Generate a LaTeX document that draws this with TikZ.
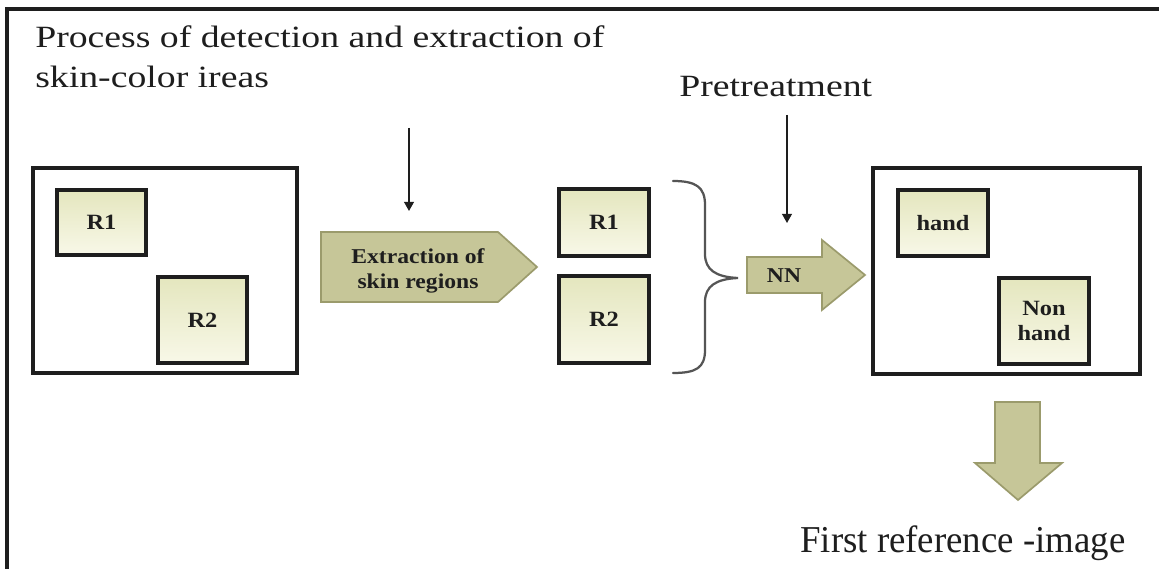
\documentclass[tikz,border=0pt]{standalone}
\usepackage{fontspec}
\setmainfont{Liberation Serif}
\newfontfamily\headfont[FakeStretch=1.22]{Liberation Serif}
\newfontfamily\capfont[FakeStretch=0.97]{Liberation Serif}
\newfontfamily\tagfont[FakeStretch=1.12]{Liberation Serif}
\usetikzlibrary{arrows.meta}
\definecolor{ink}{RGB}{30,30,30}
\definecolor{olive}{RGB}{198,198,152}
\definecolor{olivedark}{RGB}{155,155,108}
\definecolor{boxtop}{RGB}{228,230,190}
\definecolor{boxbot}{RGB}{248,248,232}
\definecolor{bracegray}{RGB}{85,85,85}
\begin{document}
\begin{tikzpicture}[x=0.025cm,y=-0.025cm,
  sz/.style 2 args={minimum width=#1*0.025cm, minimum height=#2*0.025cm},
  panel/.style={draw=ink, line width=2.5pt, fill=white, inner sep=0pt},
  tagbox/.style={draw=ink, line width=2.5pt, top color=boxtop, bottom color=boxbot,
    inner sep=0pt, align=center, text=ink,
    font=\tagfont\bfseries\fontsize{15.5}{16.5}\selectfont},
  blocklabel/.style={inner sep=0pt, align=center, text=ink,
    font=\tagfont\bfseries\fontsize{15}{17.5}\selectfont},
  blockarrow/.style={fill=olive, draw=olivedark, line width=1.2pt, line join=miter},
  heading/.style={inner sep=0pt, anchor=base west, text=ink,
    font=\headfont\fontsize{22}{28}\selectfont},
  pointer/.style={draw=ink, line width=1.1pt, -{Triangle[width=7pt,length=6.5pt]}},
  bracket/.style={draw=bracegray, line width=1.6pt, line cap=round}]

\useasboundingbox (0,0) rectangle (1159,569);
\fill[white] (0,0) rectangle (1159,569);

% cropped outer frame: only the top and left rules show
\draw[ink, line width=2.3pt] (7,569) -- (7,9) -- (1159,9);

% headings
\node[heading] (title1) at (35,48) {Process of detection and extraction of};
\node[heading] (title2) at (35,88) {skin-color ireas};
\node[heading] (pre) at (679,97) {Pretreatment};
\node[inner sep=0pt, anchor=base west, text=ink,
  font=\capfont\fontsize{27}{32}\selectfont] (first) at (800,553) {First reference -image};

% input image with two candidate regions
\node[panel, sz={264}{205}] (inimg) at (165,270.5) {};
\node[tagbox, sz={89}{65}] (inR1) at (101.5,222.5) {R1};
\node[tagbox, sz={89}{86}] (inR2) at (202.5,320) {R2};

% extraction step (pentagon arrow)
\draw[blockarrow] (321,232) -- (498,232) -- (537,267) -- (498,302) -- (321,302) -- cycle;
\node[blocklabel] (extract) at (418,271) {Extraction of\\skin regions};

\coordinate (p1top) at (409,128);
\coordinate (p1tip) at (409,211);
\draw[pointer] (p1top) -- (p1tip);

% extracted regions
\node[tagbox, sz={90}{67}] (midR1) at (604,222.5) {R1};
\node[tagbox, sz={90}{87}] (midR2) at (604,319.5) {R2};

% curly bracket gathering the regions
\draw[bracket] (673,181) .. controls (696,181) and (705,187) .. (705,205)
  -- (705,254) .. controls (705,270) and (716,277) .. (738,278)
  .. controls (716,279) and (705,286) .. (705,302)
  -- (705,350) .. controls (705,368) and (696,373) .. (673,373);

% neural network classifier arrow
\draw[blockarrow] (747,257) -- (822,257) -- (822,240) -- (865,275) -- (822,310)
  -- (822,293) -- (747,293) -- cycle;
\node[blocklabel] (nn) at (784,276) {NN};

\coordinate (p2top) at (787,115);
\coordinate (p2tip) at (787,223);
\draw[pointer] (p2top) -- (p2tip);

% classified output image
\node[panel, sz={267}{206}] (outimg) at (1006.5,271) {};
\node[tagbox, sz={90}{66}] (hand) at (943,223) {hand};
\node[tagbox, sz={90}{86}, font=\tagfont\bfseries\fontsize{15.5}{17.8}\selectfont] (nonhand) at (1044,321) {Non\\hand};

% down arrow to the reference image
\draw[blockarrow] (995,402) -- (1040,402) -- (1040,463) -- (1062,463) -- (1018,500)
  -- (975,463) -- (995,463) -- cycle;

\end{tikzpicture}
\end{document}
